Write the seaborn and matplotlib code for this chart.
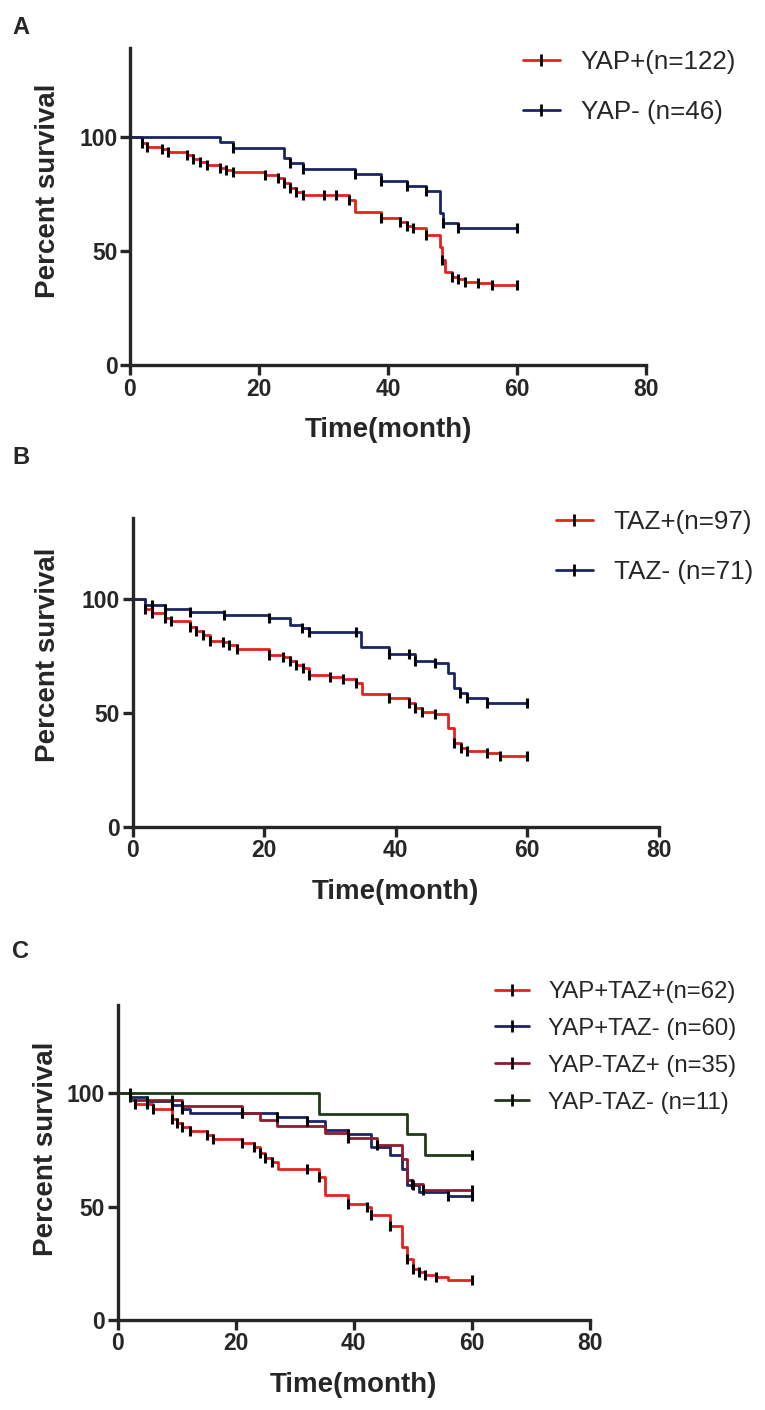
import numpy as np
import pandas as pd
import matplotlib
matplotlib.use("Agg")
import matplotlib.pyplot as plt
from matplotlib.lines import Line2D
import seaborn as sns

# ---- data (time in months, percent survival) ----
# panel A
yap_pos_t = [0, 1.8, 2.6, 4.9, 5.9, 8.8, 9.8, 10.9, 11.9, 13.9, 14.9, 15.9, 20.9, 22.9, 23.8, 24.8,
             25.8, 26.8, 33.9, 34.9, 38.9, 41.9, 42.9, 43.9, 45.9, 48.0, 48.4, 48.8, 49.9, 50.9,
             51.9, 54.0, 56.1, 60]
yap_pos_s = [100, 97.2, 95.7, 94.5, 93.6, 92.0, 90.4, 88.8, 87.7, 86.5, 85.6, 84.6, 83.3, 81.9, 79.7, 77.5,
             76.0, 74.6, 72.4, 67.3, 64.6, 62.8, 61.0, 60.0, 57.0, 51.9, 46.0, 40.9, 38.7, 37.6,
             36.6, 35.8, 35.1, 35.1]
yap_pos_cens = [1.8, 2.6, 4.9, 5.9, 8.8, 9.8, 10.9, 11.9, 13.9, 14.9, 15.9, 20.9, 22.9, 23.8, 24.8, 25.8,
                26.8, 30.0, 31.9, 33.9, 38.9, 41.9, 42.9, 43.9, 45.9, 48.4, 49.9, 50.9, 51.9, 54.0, 56.1, 60]
yap_neg_t = [0, 14.0, 15.9, 23.9, 24.8, 26.8, 34.9, 38.9, 42.9, 45.9, 48.1, 48.5, 50.9, 60]
yap_neg_s = [100, 97.8, 95.3, 90.6, 88.4, 85.8, 83.6, 80.8, 78.6, 76.4, 66.8, 62.3, 60.0, 60.0]
yap_neg_cens = [15.9, 24.8, 26.8, 34.9, 38.9, 42.9, 45.9, 48.5, 50.9, 60]

# panel B
taz_pos_t = [0, 1.9, 2.9, 4.9, 5.8, 8.7, 9.7, 10.7, 11.7, 13.8, 14.7, 15.8, 20.8, 22.9, 23.9, 24.9,
             25.9, 26.8, 30.0, 32.0, 34.0, 34.8, 38.9, 42.0, 43.0, 44.0, 46.0, 48.0, 48.9, 49.9,
             50.9, 53.9, 55.9, 60]
taz_pos_s = [100, 95.6, 94.1, 91.9, 90.6, 88.0, 86.2, 84.3, 81.7, 81.0, 79.8, 78.0, 75.6, 74.5, 73.0, 71.1,
             69.6, 66.7, 66.0, 64.8, 63.3, 58.4, 56.4, 54.5, 52.0, 50.6, 49.6, 43.3, 36.8, 34.6,
             33.1, 32.4, 31.2, 31.2]
taz_pos_cens = [1.9, 2.9, 4.9, 5.8, 8.7, 9.7, 10.7, 11.7, 13.8, 14.7, 15.8, 20.8, 22.9, 23.9, 24.9, 25.9,
                26.8, 30.0, 32.0, 34.0, 38.9, 42.0, 43.0, 44.0, 46.0, 48.9, 49.9, 50.9, 53.9, 55.9, 60]
taz_neg_t = [0, 1.9, 4.9, 8.7, 13.9, 20.8, 23.9, 25.8, 26.8, 34.7, 38.9, 43.0, 46.0, 48.0, 48.8,
             49.8, 50.9, 53.9, 60]
taz_neg_s = [100, 97.5, 95.6, 94.3, 93.1, 91.6, 88.7, 87.2, 85.8, 78.9, 76.0, 73.0, 72.0, 67.4, 60.8,
             58.6, 56.4, 54.5, 54.5]
taz_neg_cens = [2.9, 4.9, 8.7, 13.9, 20.8, 25.8, 26.8, 34.0, 38.9, 42.0, 43.0, 46.0, 49.8, 50.9, 53.9, 60]

# panel C
pp_t = [0, 2.1, 2.9, 6.0, 9.2, 10.0, 11.0, 12.2, 15.1, 16.1, 21.0, 23.1, 24.2, 25.0, 26.1, 27.1,
        34.2, 35.2, 39.1, 42.2, 43.0, 46.2, 48.2, 49.0, 50.0, 51.0, 52.0, 54.0, 56.0, 60]
pp_s = [100, 96.8, 95.2, 92.9, 88.4, 86.9, 85.0, 83.2, 81.5, 79.6, 78.1, 76.4, 73.5, 71.3, 69.8, 66.5,
        63.2, 54.9, 51.3, 50.0, 46.3, 41.5, 32.3, 27.0, 22.5, 21.0, 20.0, 19.0, 17.5, 17.5]
pp_cens = [2.9, 5.0, 6.0, 9.2, 10.0, 11.0, 12.2, 15.1, 16.1, 21.0, 23.1, 24.2, 25.0, 26.1, 32.1, 34.2,
           39.1, 42.2, 43.0, 46.2, 49.0, 50.0, 51.0, 52.0, 54.0, 60]
pn_t = [0, 2.1, 5.0, 9.2, 11.0, 12.2, 27.0, 32.1, 35.2, 39.1, 43.0, 46.2, 48.2, 49.0, 51.0, 56.0, 60]
pn_s = [100, 98.3, 96.5, 94.8, 93.0, 91.3, 89.6, 87.9, 83.6, 81.8, 76.3, 72.7, 66.4, 59.5, 56.2, 54.8, 54.8]
pn_cens = [2.1, 5.0, 9.2, 11.0, 21.0, 27.0, 32.1, 39.1, 50.0, 56.0, 60]
np_t = [0, 2.1, 11.0, 21.0, 24.2, 27.0, 35.2, 39.1, 44.0, 48.2, 49.0, 49.9, 51.7, 60]
np_s = [100, 97.1, 94.3, 91.4, 88.3, 85.4, 82.4, 80.0, 77.1, 71.1, 61.6, 60.1, 57.2, 57.2]
np_cens = [9.2, 11.0, 21.0, 39.1, 44.0, 49.9, 51.7, 60]
nn_t = [0, 34.2, 49.0, 52.0, 60]
nn_s = [100, 90.9, 81.8, 72.7, 72.7]
nn_cens = [2.1, 60]

RED, NAVY, MAROON, GREEN = "#e3221c", "#1b2565", "#8e1b2e", "#1e3b17"

panels = [
    dict(letter="A", rect=(130, 48, 646, 365), ytop=139,
         groups=[("YAP+(n=122)", yap_pos_t, yap_pos_s, yap_pos_cens, RED),
                 ("YAP- (n=46)", yap_neg_t, yap_neg_s, yap_neg_cens, NAVY)],
         leg=(523, 50), fs=18.7, lsp=1.0, ylab=(48, 191), letter_y=27),
    dict(letter="B", rect=(132.7, 518.3, 658.8, 826.7), ytop=135.6,
         groups=[("TAZ+(n=97)", taz_pos_t, taz_pos_s, taz_pos_cens, RED),
                 ("TAZ- (n=71)", taz_neg_t, taz_neg_s, taz_neg_cens, NAVY)],
         leg=(556, 510), fs=18.7, lsp=1.0, ylab=(48.5, 655), letter_y=458),
    dict(letter="C", rect=(117.5, 1005, 590, 1320), ytop=138.8,
         groups=[("YAP+TAZ+(n=62)", pp_t, pp_s, pp_cens, RED),
                 ("YAP+TAZ- (n=60)", pn_t, pn_s, pn_cens, NAVY),
                 ("YAP-TAZ+ (n=35)", np_t, np_s, np_cens, MAROON),
                 ("YAP-TAZ- (n=11)", nn_t, nn_s, nn_cens, GREEN)],
         leg=(495, 981), fs=17.3, lsp=0.62, ylab=(46, 1149), letter_y=951),
]

sns.set_style("ticks")
plt.rcParams["font.family"] = ["Liberation Sans", "DejaVu Sans"]
plt.rcParams["axes.linewidth"] = 2.4

W, H = 765, 1410
fig = plt.figure(figsize=(W / 100, H / 100), dpi=100)

for p in panels:
    x0, y0, x1, y1 = p["rect"]
    ax = fig.add_axes([x0 / W, 1 - y1 / H, (x1 - x0) / W, (y1 - y0) / H])

    curves = []
    marks = []
    for name, t, s, cens, col in p["groups"]:
        curves.append(pd.DataFrame({"time": t, "survival": s, "group": name}))
        idx = np.searchsorted(t, cens, side="right") - 1
        marks.append(pd.DataFrame({"time": cens, "survival": np.array(s)[idx], "group": name}))
    curves = pd.concat(curves)
    marks = pd.concat(marks)
    pal = {g[0]: g[4] for g in p["groups"]}

    sns.lineplot(data=curves, x="time", y="survival", hue="group", palette=pal,
                 hue_order=list(pal), estimator=None, drawstyle="steps-post",
                 linewidth=2.0, legend=False, ax=ax)
    sns.scatterplot(data=marks, x="time", y="survival", marker="|", color="black",
                    s=55, linewidth=2.2, legend=False, ax=ax, zorder=3)

    ax.set_xlim(0, 80)
    ax.set_ylim(0, p["ytop"])
    ax.set_xticks([0, 20, 40, 60, 80])
    ax.set_yticks([0, 50, 100])
    sns.despine(ax=ax)
    ax.tick_params(width=2.4, length=7, labelsize=16.5, pad=2)
    for lab in ax.get_xticklabels() + ax.get_yticklabels():
        lab.set_fontweight("bold")

    ax.set_xlabel("Time(month)", fontsize=20, fontweight="bold")
    ax.set_ylabel("Percent survival", fontsize=20, fontweight="bold")
    ax.xaxis.label.set_va("center")
    ax.yaxis.label.set_va("center")
    ax.xaxis.set_label_coords(0.5, -65 / (y1 - y0))
    ax.yaxis.set_label_coords((p["ylab"][0] - x0) / (x1 - x0), (y1 - p["ylab"][1]) / (y1 - y0))

    handles = [Line2D([], [], color=g[4], lw=2.0, marker="|", markersize=8,
                      markeredgecolor="black", markeredgewidth=2.0) for g in p["groups"]]
    ax.legend(handles, [g[0] for g in p["groups"]], loc="upper left",
              bbox_to_anchor=(p["leg"][0] / W, 1 - p["leg"][1] / H), bbox_transform=fig.transFigure,
              frameon=False, fontsize=p["fs"], numpoints=1, handlelength=1.42,
              handletextpad=0.8, labelspacing=p["lsp"], borderaxespad=0, borderpad=0)

    fig.text(12 / W, 1 - p["letter_y"] / H, p["letter"], fontsize=17, fontweight="bold",
             ha="left", va="center")

fig.savefig("out.png", dpi=100)
